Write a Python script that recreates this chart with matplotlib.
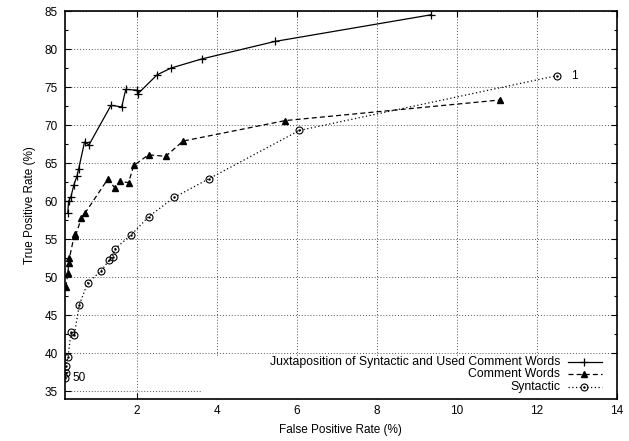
import matplotlib
matplotlib.use('Agg')
import matplotlib.pyplot as plt
from matplotlib.patches import Rectangle
from matplotlib.ticker import MultipleLocator

plt.rcParams['font.family'] = ['Liberation Sans', 'DejaVu Sans']

# ROC points (threshold 50 -> 1)
juxt_fpr = [0.27, 0.29, 0.35, 0.42, 0.50, 0.54, 0.69, 0.80, 1.35, 1.62, 1.72, 2.00, 2.02, 2.50, 2.85, 3.62, 5.45, 9.35]
juxt_tpr = [58.4, 60.0, 60.6, 62.1, 63.3, 64.2, 67.8, 67.4, 72.6, 72.4, 74.7, 74.6, 74.1, 76.6, 77.5, 78.7, 81.0, 84.5]

comment_fpr = [0.22, 0.275, 0.29, 0.31, 0.44, 0.46, 0.61, 0.71, 1.27, 1.44, 1.58, 1.79, 1.92, 2.29, 2.72, 3.15, 5.71, 11.07]
comment_tpr = [48.7, 50.55, 51.9, 52.5, 55.7, 55.4, 57.8, 58.5, 62.9, 61.8, 62.6, 62.45, 64.7, 66.1, 65.9, 67.9, 70.6, 73.3]

syn_fpr = [0.21, 0.22, 0.22, 0.275, 0.35, 0.43, 0.56, 0.77, 1.10, 1.31, 1.39, 1.44, 1.84, 2.29, 2.93, 3.80, 6.06, 12.5]
syn_tpr = [36.7, 37.4, 38.3, 39.5, 42.75, 42.35, 46.4, 49.3, 50.8, 52.3, 52.7, 53.7, 55.5, 57.95, 60.5, 62.95, 69.3, 76.5]

labels = ['Juxtaposition of Syntactic and Used Comment Words', 'Comment Words', 'Syntactic']
x_ticks = [2, 4, 6, 8, 10, 12, 14]
y_ticks = [35, 40, 45, 50, 55, 60, 65, 70, 75, 80, 85]

fig = plt.figure(figsize=(6.29, 4.41), dpi=100)
ax = fig.add_axes([0.1033, 0.0952, 0.8772, 0.8798])

lw = 0.9
dash = (0, (4, 2.5))
dot = (0, (1, 2))

ax.plot(juxt_fpr, juxt_tpr, color='black', lw=lw, marker='+', ms=6, mew=0.9, zorder=3)
ax.plot(comment_fpr, comment_tpr, color='black', lw=lw, ls=dash, marker='^', ms=5, zorder=3)
ax.plot(syn_fpr, syn_tpr, color='black', lw=lw, ls=dot, marker='o', ms=5, mfc='none', mew=0.8, zorder=3)
ax.plot(syn_fpr, syn_tpr, ls='none', marker='.', ms=1.5, color='black', zorder=3)

ax.annotate('1', (syn_fpr[-1], syn_tpr[-1]), xytext=(10, 0), textcoords='offset points',
            fontsize=8.5, va='center', ha='left')
ax.annotate('50', (syn_fpr[0], syn_tpr[0]), xytext=(5, 0), textcoords='offset points',
            fontsize=8.5, va='center', ha='left')

ax.set_xlim(0.2, 14)
ax.set_ylim(34, 85)
ax.set_xticks(x_ticks)
ax.set_yticks(y_ticks)
ax.yaxis.set_minor_locator(MultipleLocator(2.5))

ax.tick_params(which='both', direction='in', top=True, right=True, labelsize=8.5, width=0.8)
ax.tick_params(axis='y', which='major', length=4.5, pad=5)
ax.tick_params(axis='x', which='major', length=4.5, pad=4)
ax.tick_params(which='minor', length=2.5)
for spine in ax.spines.values():
    spine.set_linewidth(1.2)

ax.set_axisbelow(True)
ax.grid(True, which='major', color='#555555', ls=dot, lw=0.7)
# gnuplot leaves the key area free of grid lines
ax.add_patch(Rectangle((0.248, 0.0), 0.752, 0.11, transform=ax.transAxes,
                       facecolor='white', edgecolor='none', zorder=1))

ax.set_xlabel('False Positive Rate (%)', fontsize=8.5, labelpad=5)
ax.set_ylabel('True Positive Rate (%)', fontsize=8.5, labelpad=6)

# key drawn gnuplot-style: text right aligned, sample on the right
key_y = [0.0955, 0.0637, 0.0317]
key_styles = [
    dict(ls='-', marker='+', ms=6, mew=0.9),
    dict(ls=dash, marker='^', ms=5),
    dict(ls=dot, marker='o', ms=5, mfc='none', mew=0.8),
]
for lab, yk, st in zip(labels, key_y, key_styles):
    ax.text(0.897, yk, lab, transform=ax.transAxes, ha='right', va='center', fontsize=8.8, zorder=4)
    ax.plot([0.911, 0.973], [yk, yk], transform=ax.transAxes, color='black', lw=lw,
            ls=st['ls'], zorder=4, clip_on=False)
    ax.plot([0.941], [yk], transform=ax.transAxes, color='black', ls='none',
            **{k: v for k, v in st.items() if k != 'ls'}, zorder=4, clip_on=False)
ax.plot([0.941], [key_y[2]], transform=ax.transAxes, ls='none', marker='.', ms=1.5,
        color='black', zorder=4)

fig.savefig('out.png', dpi=100, facecolor='white')
plt.close(fig)
